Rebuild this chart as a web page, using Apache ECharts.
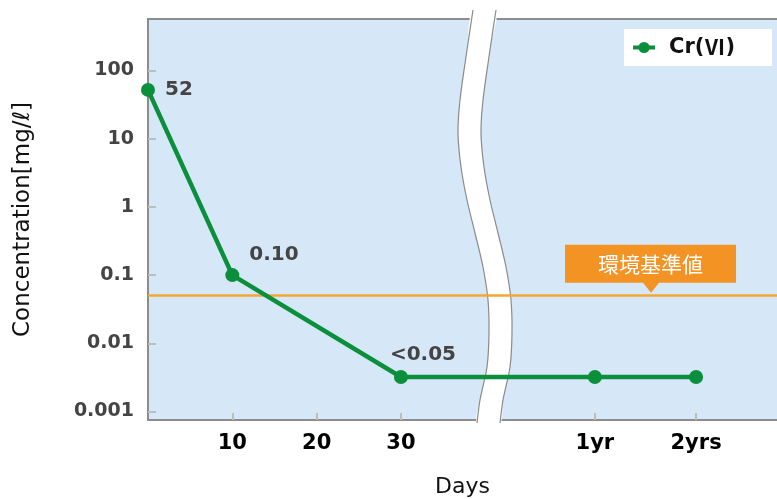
<!DOCTYPE html>
<html>
<head>
<meta charset="utf-8">
<script src="https://cdn.jsdelivr.net/npm/echarts@6/dist/echarts.min.js"></script>
<style>
html,body{margin:0;padding:0;background:#fff}
#chart{width:777px;height:499px}
</style>
</head>
<body>
<div id="chart"></div>
<script>
// days axis is broken after 30, so 1yr / 2yrs sit at compressed positions
let dayPos = [0, 10, 30, 53, 65];
let crVI = [52, 0.1, 0.0032, 0.0032, 0.0032];
let pointLabels = ['52', '0.10', '<0.05', '', ''];
let xTickPos = [10, 20, 30, 53, 65];
let xTickNames = ['10', '20', '30', '1yr', '2yrs'];
let yTicks = [0.001, 0.01, 0.1, 1, 10, 100];
let yTickNames = ['0.001', '0.01', '0.1', '1', '10', '100'];
let standardValue = 0.05;
let standardName = '環境基準値';
let seriesName = 'Cr(Ⅵ)';

let myChart = echarts.init(document.getElementById('chart'));

let labelPlace = [
    {position: 'right', distance: 10},
    {position: 'right', distance: 10, offset: [0, -20]},
    {position: 'top', distance: 5, offset: [22, 0]},
    {},
    {}
];
let lineData = [];
for (let i = 0; i < dayPos.length; i++) {
    let item = {value: [dayPos[i], crVI[i]]};
    if (pointLabels[i]) {
        item.label = Object.assign({show: true, formatter: pointLabels[i]}, labelPlace[i]);
    }
    lineData.push(item);
}

// the wavy break mark across the days axis
let breakLeft = [[473,10],[467,50],[460,100],[458,133],[461,167],[467,200],[475,233],[483,267],[488,300],[489,333],[487,367],[480,400],[477,423]];
let breakRight = breakLeft.map(function (p) { return [p[0] + 23, p[1]]; });
let breakFill = breakLeft.concat(breakRight.slice().reverse());

let blue = '#d6e8f7';
let green = '#0c8f3c';
let orange = '#f5a733';
let axisGray = '#8c8c8c';

let option = {
    animation: false,
    textStyle: {fontFamily: 'DejaVu Sans'},
    grid: {
        left: 148, right: 0, top: 19, bottom: 79,
        outerBoundsMode: 'none',
        containLabel: false,
        show: true, backgroundColor: blue, borderWidth: 0
    },
    legend: {
        data: [seriesName],
        right: 5, top: 29,
        backgroundColor: '#fff',
        padding: [8, 37, 8, 7],
        itemWidth: 22, itemHeight: 14,
        lineStyle: {width: 4},
        formatter: function (n) { return n.replace('Ⅵ', '{r|Ⅵ}'); },
        textStyle: {
            fontSize: 21, fontWeight: 'bold', color: '#111', fontFamily: 'DejaVu Sans',
            padding: [0, 0, 0, 9],
            rich: {r: {fontSize: 21, fontWeight: 'bold', color: '#111', fontFamily: 'Noto Sans CJK JP'}}
        }
    },
    xAxis: [{
        type: 'value',
        min: 0, max: 74.6,
        name: 'Days',
        nameLocation: 'middle',
        nameGap: 56,
        nameTextStyle: {fontSize: 22, color: '#111', fontFamily: 'DejaVu Sans'},
        splitLine: {show: false},
        axisLine: {lineStyle: {color: axisGray, width: 2}},
        axisTick: {inside: true, length: 7, customValues: xTickPos, lineStyle: {color: '#bdbdbd', width: 2}},
        axisLabel: {
            customValues: xTickPos,
            margin: 13,
            fontSize: 21, fontWeight: 'bold', color: '#000',
            formatter: function (v) {
                let i = xTickPos.indexOf(v);
                return i >= 0 ? xTickNames[i] : '';
            }
        }
    }, {
        type: 'value',
        position: 'top',
        min: 0, max: 74.6,
        axisLine: {show: true, lineStyle: {color: axisGray, width: 2}},
        axisTick: {show: false},
        axisLabel: {show: false},
        splitLine: {show: false}
    }],
    yAxis: {
        type: 'log',
        logBase: 10,
        min: 0.00075, max: 570,
        name: 'Concentration[mg/ℓ]',
        nameLocation: 'middle',
        nameGap: 113,
        nameTextStyle: {fontSize: 23, color: '#111', fontFamily: 'DejaVu Sans'},
        splitLine: {show: false},
        axisLine: {show: true, lineStyle: {color: axisGray, width: 2}},
        axisTick: {inside: true, length: 8, customValues: yTicks, lineStyle: {color: '#bdbdbd', width: 2}},
        axisLabel: {
            customValues: yTicks,
            margin: 14,
            fontSize: 19, fontWeight: 'bold', color: '#444',
            formatter: function (v) {
                for (let i = 0; i < yTicks.length; i++) {
                    if (Math.abs(Math.log10(v) - Math.log10(yTicks[i])) < 0.01) return yTickNames[i];
                }
                return '';
            }
        }
    },
    graphic: [{
        type: 'polygon', z: 3, silent: true,
        shape: {points: breakFill, smooth: 0.3},
        style: {fill: '#fff'}
    }, {
        type: 'polyline', z: 3, silent: true,
        shape: {points: breakLeft, smooth: 0.3},
        style: {stroke: '#8a8a8a', lineWidth: 1.2, fill: null}
    }, {
        type: 'polyline', z: 3, silent: true,
        shape: {points: breakRight, smooth: 0.3},
        style: {stroke: '#8a8a8a', lineWidth: 1.2, fill: null}
    }],
    series: [{
        name: 'standard',
        type: 'line',
        z: 2,
        data: [],
        markLine: {
            silent: true,
            symbol: 'none',
            label: {show: false},
            lineStyle: {color: orange, width: 2.5, type: 'solid'},
            data: [{yAxis: standardValue}]
        },
        markPoint: {
            silent: true,
            symbol: 'path://M0 0 H171 V38 H94 L86 48 L78 38 H0 Z',
            symbolSize: [171, 48],
            symbolKeepAspect: false,
            symbolOffset: [0, -27],
            itemStyle: {color: '#f39324'},
            label: {
                show: true,
                position: 'inside',
                offset: [0, -5],
                color: '#fff',
                fontSize: 21,
                fontFamily: 'Noto Sans CJK JP',
                formatter: standardName
            },
            data: [{coord: [59.6, standardValue]}]
        }
    }, {
        name: seriesName,
        type: 'line',
        z: 5,
        data: lineData,
        symbol: 'circle',
        symbolSize: 14,
        color: green,
        lineStyle: {color: green, width: 4.5},
        itemStyle: {color: green},
        label: {
            fontSize: 20, fontWeight: 'bold', color: '#444', fontFamily: 'DejaVu Sans'
        }
    }]
};
myChart.setOption(option);
</script>
</body>
</html>
